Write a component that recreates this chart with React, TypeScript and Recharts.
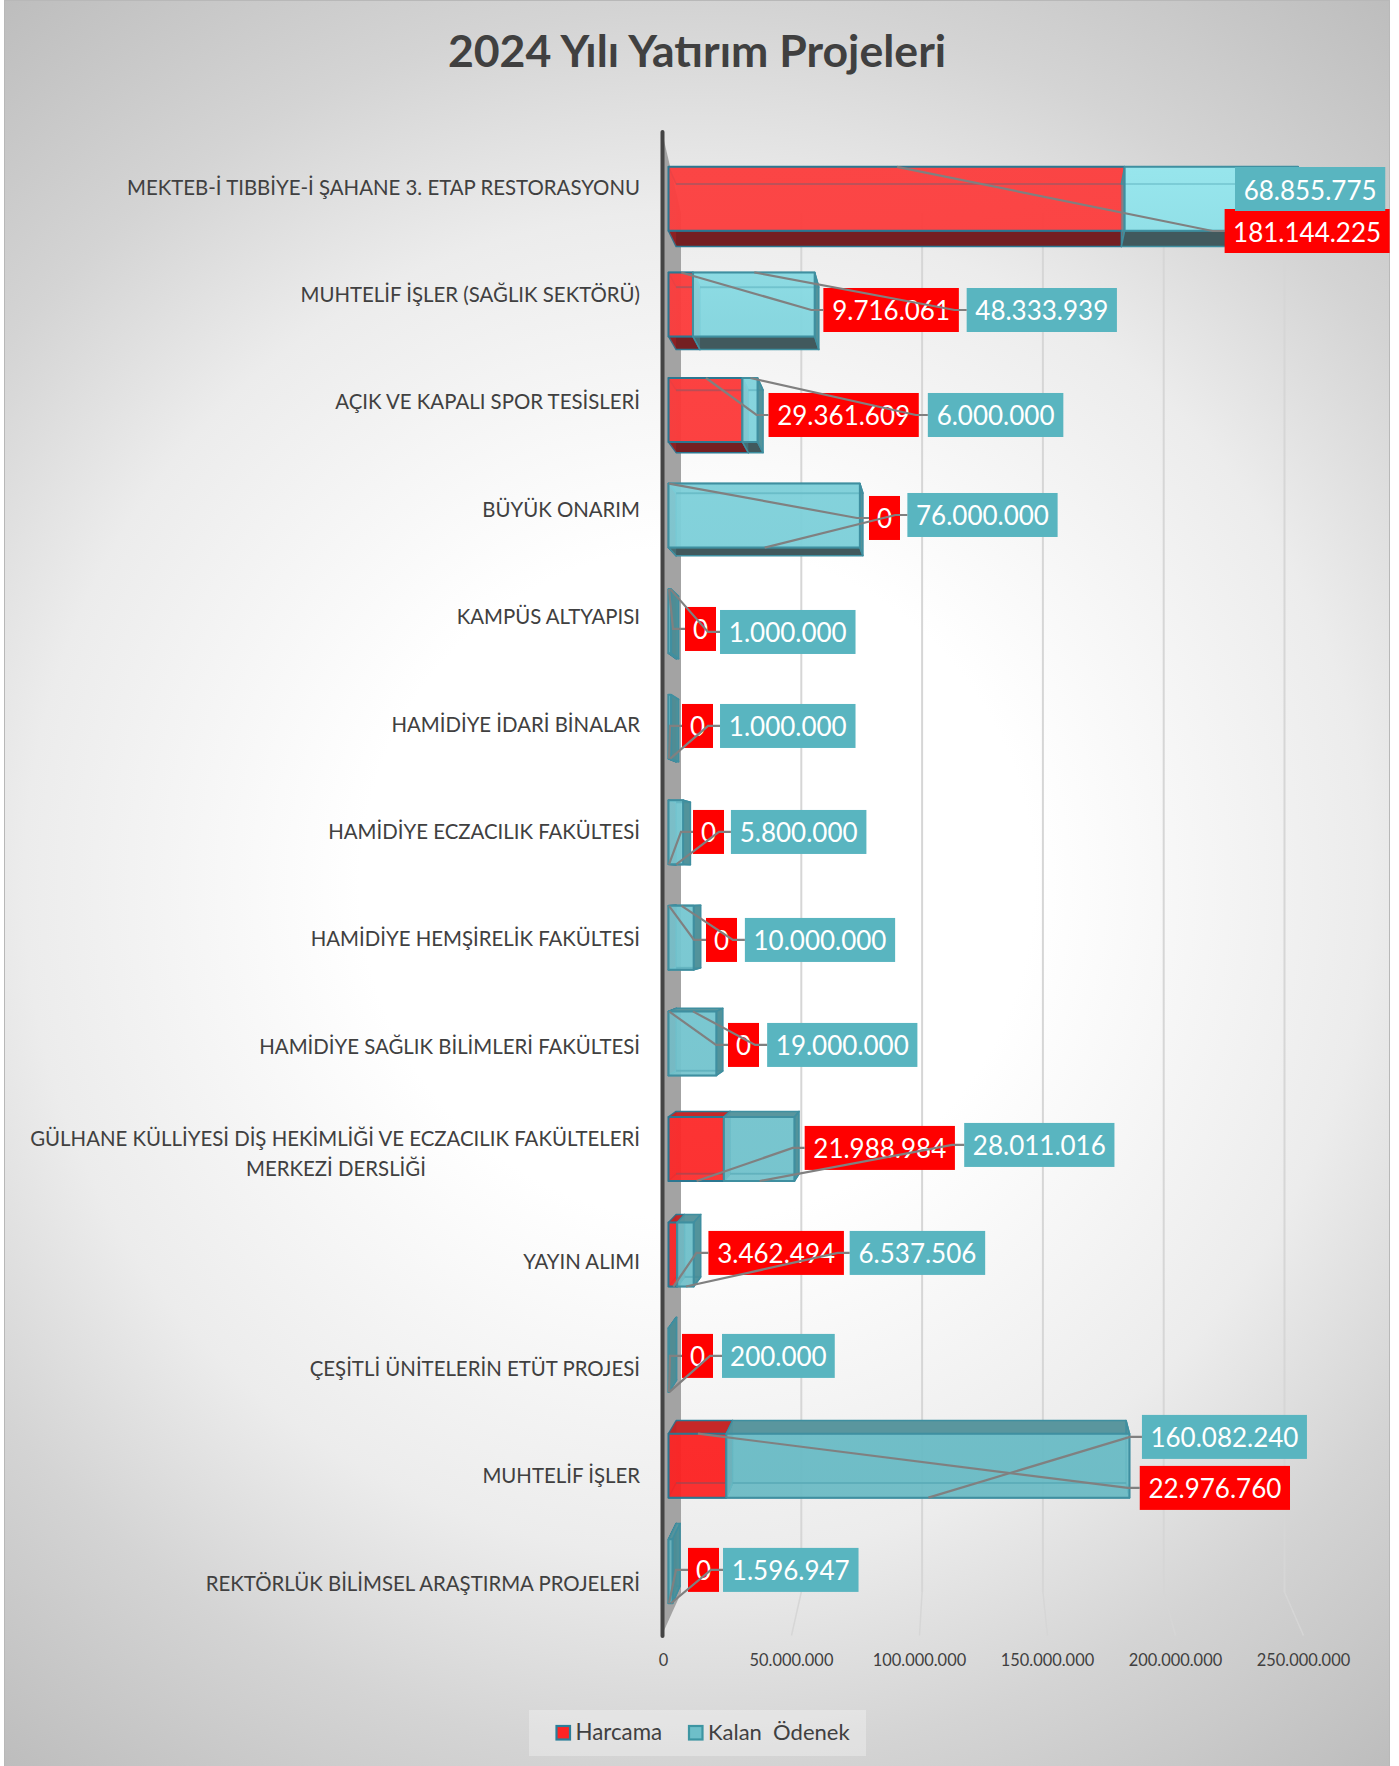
import React from 'react';
import { BarChart, Bar, XAxis, YAxis, Legend, LabelList, CartesianGrid } from 'recharts';

const CHART_WIDTH = 1399;
const CHART_HEIGHT = 1766;

const projects = [
  'MEKTEB-İ TIBBİYE-İ ŞAHANE 3. ETAP RESTORASYONU',
  'MUHTELİF İŞLER (SAĞLIK SEKTÖRÜ)',
  'AÇIK VE KAPALI SPOR TESİSLERİ',
  'BÜYÜK ONARIM',
  'KAMPÜS ALTYAPISI',
  'HAMİDİYE İDARİ BİNALAR',
  'HAMİDİYE ECZACILIK FAKÜLTESİ',
  'HAMİDİYE HEMŞİRELİK FAKÜLTESİ',
  'HAMİDİYE SAĞLIK BİLİMLERİ FAKÜLTESİ',
  'GÜLHANE KÜLLİYESİ DİŞ HEKİMLİĞİ VE ECZACILIK FAKÜLTELERİ\nMERKEZİ DERSLİĞİ',
  'YAYIN ALIMI',
  'ÇEŞİTLİ ÜNİTELERİN ETÜT PROJESİ',
  'MUHTELİF İŞLER',
  'REKTÖRLÜK BİLİMSEL ARAŞTIRMA PROJELERİ',
];
const harcama = [181144225, 9716061, 29361609, 0, 0, 0, 0, 0, 0, 21988984, 3462494, 0, 22976760, 0];
const kalanOdenek = [68855775, 48333939, 6000000, 76000000, 1000000, 1000000, 5800000, 10000000, 19000000, 28011016, 6537506, 200000, 160082240, 1596947];
const axisTicks = [0, 50000000, 100000000, 150000000, 200000000, 250000000];

// hand placed data labels, [dx from bar end, dy from row centre]
const harcamaLabelNudge = [
  [100, 22], [130.4, -6.4], [26.1, -8.8], [200.5, -13.2], [16.5, -9.6], [13.5, -20], [24.5, -21.4],
  [37.5, -20.8], [59.5, -23.2], [80.8, -27.6], [31.2, -30], [13.5, -34.4], [413.4, -9.8], [19.5, -35.2],
];
const kalanLabelNudge = [
  [-63, -20], [152, -6.4], [170.3, -8.8], [47.5, -16.2], [49, -6.6], [49, -20], [47.8, -21.4],
  [51.2, -20.8], [50.8, -23.2], [169.8, -30.6], [156, -30], [53, -34.4], [12.5, -60.8], [50.5, -35.2],
];
// which edge of the bar the leader line leaves from
const harcamaLeaderEdge = ['top', 'top', 'top', 'top', 'top', 'bottom', 'bottom', 'top', 'top', 'bottom', 'bottom', 'bottom', 'top', 'bottom'];
const kalanLeaderEdge = [null, 'top', 'top', 'bottom', 'top', 'bottom', 'bottom', 'top', 'top', 'bottom', 'bottom', 'bottom', 'bottom', 'bottom'];

const chartData = projects.map((name, i) => ({ name, harcama: harcama[i], kalan: kalanOdenek[i] }));

const FONT = 'Lato, sans-serif';
const TEXT_COLOR = '#404040';
const PLOT_LEFT = 668.5;
const PLOT_RIGHT = 1298;
const PLOT_TOP = 133;
const PLOT_BOTTOM = 1636.5;
const STEP_50M = (PLOT_RIGHT - PLOT_LEFT) / 5;
const VP_X = 988;
const VP_Y = 885;
const DEPTH = 0.024;
const BAR_H = 64;
const LABEL_H = 44;

const formatNumber = (v: number) => String(v).replace(/\B(?=(\d{3})+(?!\d))/g, '.');
const labelWidth = (s: string) => {
  const dots = s.split('.').length - 1;
  return (s.length - dots) * 14.75 + dots * 8 + 16.25;
};

const RED = { front: 'url(#redFront)', top: '#c62828', bottom: '#741f22', side: '#b52226', inner: '#c92a2a', edge: '#2b7791' };
const TEAL = { front: 'url(#tealFront)', top: '#5a969e', bottom: '#41595d', side: '#4d8f98', inner: '#5aa5af', edge: '#3f8fa0' };

const back = (px: number, py: number) => [px + (VP_X - px) * DEPTH, py + (VP_Y - py) * DEPTH];
const pts = (list: number[][]) => list.map((p) => p.join(',')).join(' ');

const frontTop = (y: number, height: number) => y + (VP_Y - (y + height / 2)) * 0.017;

const wallX = (x: number) => 680.5 + (x - PLOT_LEFT) * (120.8 / STEP_50M);
const floorX = (x: number) => 663.5 + (x - PLOT_LEFT) * (128 / STEP_50M);

const Bar3D: React.FC<any> = ({ x, y, width, height, colors }) => {
  const top = frontTop(y, height);
  const bot = top + height;
  const right = x + width;
  const tl = back(x, top);
  const tr = back(right, top);
  const bl = back(x, bot);
  const br = back(right, bot);
  const topVisible = top > VP_Y;
  const botVisible = bot < VP_Y;
  return (
    <g stroke={colors.edge} strokeWidth={1.5} strokeLinejoin="round">
      <polygon points={pts([tl, tr, br, bl])} fill={colors.inner} fillOpacity={0.5} stroke="none" />
      <polygon points={pts([[x, top], [right, top], tr, tl])} fill={colors.top} fillOpacity={topVisible ? 1 : 0.55} />
      <polygon points={pts([[x, bot], [right, bot], br, bl])} fill={colors.bottom} fillOpacity={botVisible ? 1 : 0.18} />
      <polygon points={pts([[x, top], tl, bl, [x, bot]])} fill={colors.side} fillOpacity={0.4} stroke="none" />
      <polygon points={pts([[right, top], tr, br, [right, bot]])} fill={colors.side} fillOpacity={right < VP_X ? 0.95 : 0.3} />
      {width > 0 && (
        <rect x={x} y={top} width={width} height={height} fill={colors.front} fillOpacity={0.9} strokeWidth={2} />
      )}
      <line x1={tl[0]} y1={tl[1]} x2={tr[0]} y2={tr[1]} stroke={colors.edge} strokeOpacity={topVisible ? 0 : 0.25} strokeWidth={2} />
      <line x1={bl[0]} y1={bl[1]} x2={br[0]} y2={br[1]} stroke={colors.edge} strokeOpacity={botVisible ? 0 : 0.25} strokeWidth={2} />
    </g>
  );
};

const CategoryTick: React.FC<any> = ({ y, payload }) => {
  const lines = String(payload.value).split('\n');
  const common = { fontFamily: FONT, fontSize: 20.4, fill: TEXT_COLOR };
  if (lines.length === 1) {
    return <text x={640} y={y + 8} textAnchor="end" {...common}>{lines[0]}</text>;
  }
  return (
    <g>
      <text x={640} y={y - 7} textAnchor="end" {...common}>{lines[0]}</text>
      <text x={336} y={y + 23} textAnchor="middle" {...common}>{lines[1]}</text>
    </g>
  );
};

// gridline on the back wall, then the bend across the floor
const WallGridLine = ({ x1 }: any) => {
  if (x1 <= PLOT_LEFT + 1) return null;
  return (
    <g key={x1}>
      <line x1={wallX(x1)} y1={213} x2={wallX(x1)} y2={1592} stroke="#d6d6d6" strokeWidth={2} />
      <line x1={wallX(x1)} y1={1592} x2={floorX(x1)} y2={PLOT_BOTTOM - 1} stroke="#d6d6d6" strokeWidth={1.5} />
    </g>
  );
};

const ValueTick: React.FC<any> = ({ x, payload }) => (
  <text x={floorX(x)} y={1666} textAnchor="middle" fontFamily={FONT} fontSize={16.4} fill={TEXT_COLOR}>
    {formatNumber(payload.value)}
  </text>
);

const DataLabels: React.FC<any> = ({ x, y, width, height, index }) => {
  const harEnd = x;
  const total = x + width;
  const top = frontTop(y, height);
  const harText = formatNumber(harcama[index]);
  const kalText = formatNumber(kalanOdenek[index]);
  const band = y + height / 2;
  const harLeft = harEnd + harcamaLabelNudge[index][0];
  const harTop = band + harcamaLabelNudge[index][1];
  const kalLeft = total + kalanLabelNudge[index][0];
  const kalTop = band + kalanLabelNudge[index][1];

  const box = (left: number, boxTop: number, text: string, fill: string) => {
    const w = labelWidth(text);
    return (
      <g>
        <rect x={left} y={boxTop} width={w} height={LABEL_H} fill={fill} />
        <text x={left + w / 2} y={boxTop + 32.5} textAnchor="middle" fontFamily={FONT} fontSize={26} fill="#ffffff">{text}</text>
      </g>
    );
  };
  const leader = (startX: number, edge: string | null, left: number, boxTop: number) => {
    if (!edge) return null;
    const startY = edge === 'top' ? top : top + height;
    const midY = boxTop + LABEL_H / 2;
    return <polyline points={pts([[startX, startY], [left - 12, midY], [left, midY]])} fill="none" stroke="#808080" strokeWidth={2.2} />;
  };

  return (
    <g>
      {box(harLeft, harTop, harText, '#ff0000')}
      {box(kalLeft, kalTop, kalText, '#59b5c0')}
      {leader((PLOT_LEFT + harEnd) / 2 + 0.5, harcamaLeaderEdge[index], harLeft, harTop)}
      {leader((harEnd + total) / 2 + 0.5, kalanLeaderEdge[index], kalLeft, kalTop)}
    </g>
  );
};

const LegendBox: React.FC<any> = ({ payload }) => {
  const swatchEdge: Record<string, string> = { Harcama: '#2b7f9a', 'Kalan  Ödenek': '#3d95a2' };
  return (
    <svg width={337} height={46} style={{ display: 'block' }}>
      <rect width={337} height={46} fill="#ffffff" fillOpacity={0.3} />
      {(payload || []).map((entry: any, i: number) => {
        const sx = i === 0 ? 27.5 : 160;
        return (
          <g key={entry.value}>
            <rect x={sx} y={16} width={13.5} height={13.5} fill={entry.color} stroke={swatchEdge[entry.value]} strokeWidth={2.2} />
            <text x={sx + 19} y={29.5} fontFamily={FONT} fontSize={i === 0 ? 22.3 : 22} fill={TEXT_COLOR} xmlSpace="preserve" style={{ whiteSpace: 'pre' }}>{entry.value}</text>
          </g>
        );
      })}
    </svg>
  );
};

export default function App() {
  return (
    <div style={{ position: 'absolute', left: 0, top: 0, width: CHART_WIDTH, height: CHART_HEIGHT, background: '#ffffff', overflow: 'hidden' }}>
      <div
        style={{
          position: 'absolute',
          left: 4,
          top: 0,
          width: 1386,
          height: CHART_HEIGHT,
          boxSizing: 'border-box',
          borderLeft: '1px solid #b8b8b8',
          borderRight: '1px solid #b8b8b8',
          borderTop: '1px solid #b8b8b8',
          background: 'radial-gradient(circle farthest-corner at 50% 50%, #ffffff 0%, #ffffff 30%, #ececec 60%, #d4d4d4 78%, #bdbdbd 100%)',
        }}
      />
      <div style={{ position: 'absolute', left: 0, top: 0 }}>
        <BarChart
          width={CHART_WIDTH}
          height={CHART_HEIGHT}
          data={chartData}
          layout="vertical"
          margin={{ top: PLOT_TOP, right: CHART_WIDTH - PLOT_RIGHT, bottom: 10, left: 0 }}
        >
          <defs>
            <linearGradient id="redFront" gradientUnits="userSpaceOnUse" x1="0" y1="160" x2="0" y2="1500">
              <stop offset="0%" stopColor="#ff3f3f" />
              <stop offset="100%" stopColor="#ff2020" />
            </linearGradient>
            <linearGradient id="tealFront" gradientUnits="userSpaceOnUse" x1="0" y1="160" x2="0" y2="1500">
              <stop offset="0%" stopColor="#99ecf3" />
              <stop offset="12%" stopColor="#85d8e1" />
              <stop offset="30%" stopColor="#7dd0da" />
              <stop offset="75%" stopColor="#72c3cd" />
              <stop offset="100%" stopColor="#69bbc5" />
            </linearGradient>
          </defs>
          <text x={697} y={67} textAnchor="middle" fontFamily={FONT} fontSize={44.6} fontWeight={700} fill={TEXT_COLOR}>
            2024 Yılı Yatırım Projeleri
          </text>
          <polygon points={pts([[662, 132], [681, 213], [681, 1593], [662, 1635]])} fill="#a3a3a3" />
          <line x1={662.5} y1={132} x2={662.5} y2={1636} stroke="#454545" strokeWidth={4} strokeLinecap="round" />
          <CartesianGrid horizontal={false} vertical={(props: any) => <WallGridLine {...props} />} syncWithTicks />
          <XAxis
            type="number"
            domain={[0, 250000000]}
            ticks={axisTicks}
            interval={0}
            height={73.5}
            axisLine={false}
            tickLine={false}
            tick={<ValueTick />}
          />
          <YAxis
            type="category"
            dataKey="name"
            width={PLOT_LEFT}
            interval={0}
            axisLine={false}
            tickLine={false}
            tick={<CategoryTick />}
          />
          <Legend
            verticalAlign="bottom"
            content={<LegendBox />}
            wrapperStyle={{ left: 529, width: 337, height: 46, bottom: 10 }}
          />
          <Bar
            dataKey="harcama"
            name="Harcama"
            stackId="a"
            fill="#ff2424"
            barSize={BAR_H}
            isAnimationActive={false}
            shape={(props: any) => <Bar3D {...props} colors={RED} />}
          />
          <Bar
            dataKey="kalan"
            name="Kalan  Ödenek"
            stackId="a"
            fill="#6ebfc9"
            barSize={BAR_H}
            isAnimationActive={false}
            shape={(props: any) => <Bar3D {...props} colors={TEAL} />}
          >
            <LabelList dataKey="kalan" content={(props: any) => <DataLabels {...props} />} />
          </Bar>
        </BarChart>
      </div>
    </div>
  );
}
